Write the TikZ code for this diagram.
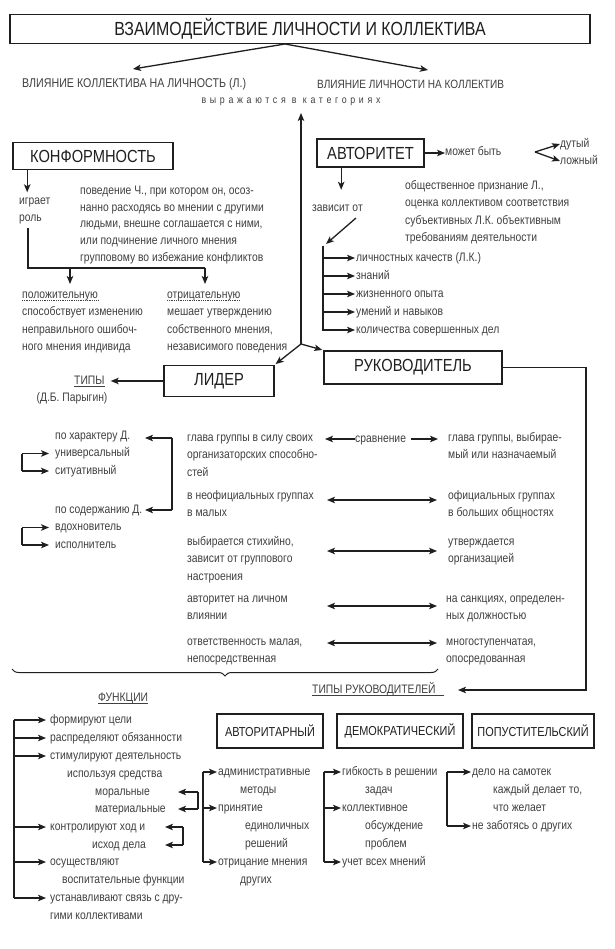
\documentclass[tikz,border=0pt]{standalone}
\usepackage{fontspec}
\setmainfont[FakeStretch=0.84]{Liberation Sans}
\usetikzlibrary{arrows.meta,decorations.pathreplacing,calc}
\definecolor{ink}{gray}{0.12}
\definecolor{txt}{gray}{0.25}
\newcommand\fsmall{\fontsize{12.3}{17.5}\selectfont}
\newcommand\fbig{\fontsize{17.5}{20}\selectfont}
\newcommand\fmid{\fontsize{13}{15}\selectfont}
\newcommand\ftitle{\fontsize{19}{22}\selectfont}
\newcommand\mystrut{\rule[-5.25pt]{0pt}{17.5pt}}
\tikzset{
 bx/.style={draw=ink, line width=1.6pt, inner sep=0pt, text=ink},
 bigbx/.style={bx, font=\fbig},
 smbx/.style={bx, font=\fmid, minimum height=34pt},
 tx/.style={inner sep=0pt, anchor=north west, align=left, font=\fsmall, text=txt},
 lt/.style={inner sep=0pt, anchor=west, font=\fsmall, text=txt, execute at begin node=\mystrut},
 con/.style={draw=ink, line width=1.3pt},
 arr/.style={con, ->},
 darr/.style={con, <->},
 uln/.style={draw=txt, line width=0.7pt},
 ulnd/.style={draw=txt, line width=0.8pt, densely dotted},
}
\begin{document}
\begin{tikzpicture}[x=1pt,y=-1pt, >={Stealth[length=8pt,width=6.5pt,inset=2pt]}]
\useasboundingbox (0,0) rectangle (614,949);
\fill[white] (0,0) rectangle (614,949);

% ---------- title ----------
\node[bx, font=\ftitle, minimum width=580pt, minimum height=29pt] (title) at (300,29) {ВЗАИМОДЕЙСТВИЕ ЛИЧНОСТИ И КОЛЛЕКТИВА};
\coordinate (apex) at (285,44);
\coordinate (tl) at (133,69);
\coordinate (tr) at (428,70);
\draw[arr] (apex) -- (tl);
\draw[arr] (apex) -- (tr);
\node[lt, font=\fontsize{12.7}{17.5}\selectfont] (inflA) at (22,84) {ВЛИЯНИЕ КОЛЛЕКТИВА НА ЛИЧНОСТЬ (Л.)};
\node[lt, font=\fontsize{12}{17.5}\selectfont] (inflB) at (317,85) {ВЛИЯНИЕ ЛИЧНОСТИ НА КОЛЛЕКТИВ};
\node[lt, anchor=center, font=\fontsize{10.5}{17.5}\selectfont\addfontfeature{LetterSpace=35}] (expr) at (291,100) {выражаются в категориях};

\coordinate (junc) at (301,344);
\coordinate (uptip) at (301,113);
\draw[arr] (junc) -- (uptip);

% ---------- conformity ----------
\node[bigbx, minimum width=160pt, minimum height=27pt] (konf) at (93,156) {КОНФОРМНОСТЬ};
\node[tx] (igr) at (19,192) {\mystrut играет\\роль};
\draw[arr] ($(konf.south west)+(15,0)$) -- ++(0,22);
\node[tx, font=\fontsize{12.3}{16.7}\selectfont] (konfdef) at (80,182) {\mystrut поведение Ч., при котором он, осоз-\\нанно расходясь во мнении с другими\\людьми, внешне соглашается с ними,\\или подчинение личного мнения\\групповому во избежание конфликтов};
\coordinate (kl) at (28,228);
\coordinate (kc) at (28,268);
\coordinate (kr) at (205,268);
\coordinate (ka) at (70,268);
\draw[con] (kl) -- (kc) -- (kr);
\draw[arr] (ka) -- ++(0,16);
\draw[arr] (kr) -- ++(0,16);
\node[lt] (pos) at (22,295) {положительную};
\draw[ulnd] ([yshift=-2pt]pos.base west) -- ([yshift=-2pt]pos.base east);
\node[tx] (posd) at (22,303.5) {\mystrut способствует изменению\\неправильного ошибоч-\\ного мнения индивида};
\node[lt] (neg) at (167,295) {отрицательную};
\draw[ulnd] ([yshift=-2pt]neg.base west) -- ([yshift=-2pt]neg.base east);
\node[tx] (negd) at (167,303.5) {\mystrut мешает утверждению\\собственного мнения,\\независимого поведения};

% ---------- authority ----------
\node[bigbx, minimum width=107pt, minimum height=28pt] (avt) at (370.5,153) {АВТОРИТЕТ};
\node[lt] (mb) at (445,152) {может быть};
\draw[arr] (avt.east) -- (avt.east -| mb.west);
\coordinate (fork) at (535,152);
\node[lt] (dut) at (560,144) {дутый};
\node[lt] (lozh) at (560,161) {ложный};
\draw[arr] (fork) -- (dut.west);
\draw[arr] (fork) -- (lozh.west);
\draw[arr] ($(avt.south west)+(25,0)$) -- ++(0,22);
\node[lt] (zav) at (312,208) {зависит от};
\coordinate (zs) at (356,218);
\coordinate (zt) at (326,244);
\draw[arr] (zs) -- (zt);
\node[tx] (avtdef) at (405,177) {\mystrut общественное признание Л.,\\оценка коллективом соответствия\\субъективных Л.К. объективным\\требованиям деятельности};
\coordinate (btop) at (323,246);
\node[lt] (q1) at (356,258) {личностных качеств (Л.К.)};
\node[lt] (q2) at (356,276) {знаний};
\node[lt] (q3) at (356,294) {жизненного опыта};
\node[lt] (q4) at (356,312) {умений и навыков};
\node[lt] (q5) at (356,330) {количества совершенных дел};
\foreach \q in {q1,q2,q3,q4,q5} \draw[arr, shorten >=1pt] (btop) |- (\q.west);

% ---------- leader / manager ----------
\node[bigbx, minimum width=110pt, minimum height=31pt] (lid) at (219,381) {ЛИДЕР};
\node[bigbx, minimum width=178pt, minimum height=33pt] (ruk) at (413,367.5) {РУКОВОДИТЕЛЬ};
\draw[arr, shorten >=1pt] (junc) -- (lid.north east);
\draw[arr, shorten >=1pt] (junc) -- (ruk.north west);
\node[lt] (tipy) at (74,381) {ТИПЫ};
\draw[uln] ([yshift=-2pt]tipy.base west) -- ([yshift=-2pt]tipy.base east);
\draw[arr, shorten >=6pt] (lid.west) -- (tipy.east);
\node[lt, anchor=center] (paryg) at (72,398) {(Д.Б. Парыгин)};

\node[tx] (pch) at (55,427) {\mystrut по характеру Д.\\универсальный\\ситуативный};
\coordinate (c1) at (22,453.5);
\coordinate (c2) at (22,471);
\draw[con] (c1) -- (c2);
\draw[arr] (c1) -- ++(27,0);
\draw[arr] (c2) -- ++(27,0);
\node[tx] (psd) at (55,501) {\mystrut по содержанию Д.\\вдохновитель\\исполнитель};
\coordinate (c3) at (22,527.5);
\coordinate (c4) at (22,545);
\draw[con] (c3) -- (c4);
\draw[arr] (c3) -- ++(27,0);
\draw[arr] (c4) -- ++(27,0);
\coordinate (rb1) at (172,438);
\coordinate (rb2) at (172,510);
\draw[con] (rb1) -- (rb2);
\draw[arr] (rb1) -- ++(-27,0);
\draw[arr] (rb2) -- ++(-27,0);

\node[tx] (m1) at (187,429) {\mystrut глава группы в силу своих\\организаторских способно-\\стей};
\node[tx] (m2) at (187,487) {\mystrut в неофициальных группах\\в малых};
\node[tx] (m3) at (187,533) {\mystrut выбирается стихийно,\\зависит от группового\\настроения};
\node[tx] (m4) at (187,590) {\mystrut авторитет на личном\\влиянии};
\node[tx] (m5) at (187,633) {\mystrut ответственность малая,\\непосредственная};

\node[tx] (r1) at (448,429) {\mystrut глава группы, выбирае-\\мый или назначаемый};
\node[tx] (r2) at (448,487) {\mystrut официальных группах\\в больших общностях};
\node[tx] (r3) at (448,533) {\mystrut утверждается\\организацией};
\node[tx] (r4) at (446,590) {\mystrut на санкциях, определен-\\ных должностью};
\node[tx] (r5) at (446,633) {\mystrut многоступенчатая,\\опосредованная};

\node[lt] (srav) at (355,439) {сравнение};
\coordinate (sl) at (325,439);
\coordinate (sr) at (438,439);
\draw[arr] (srav.west) -- (sl);
\draw[arr] ([xshift=5pt]srav.east) -- (sr);
\coordinate (d2l) at (327,500); \coordinate (d2r) at (437,500);
\coordinate (d3l) at (327,551); \coordinate (d3r) at (437,551);
\coordinate (d4l) at (327,606); \coordinate (d4r) at (437,606);
\coordinate (d5l) at (327,643); \coordinate (d5r) at (437,643);
\draw[darr] (d2l) -- (d2r);
\draw[darr] (d3l) -- (d3r);
\draw[darr] (d4l) -- (d4r);
\draw[darr] (d5l) -- (d5r);

\coordinate (brA) at (12,669);
\coordinate (brB) at (438,669);
\draw[con, line width=1pt, decorate, decoration={brace, amplitude=7pt, mirror}] (brA) -- (brB);

% ---------- manager types ----------
\node[lt] (tiprk) at (312,690) {ТИПЫ РУКОВОДИТЕЛЕЙ};
\draw[uln] ([yshift=-2pt]tiprk.base west) -- ([xshift=8pt,yshift=-2pt]tiprk.base east);
\coordinate (rcorner) at (586,690);
\coordinate (rtip) at (458,690);
\draw[arr] (ruk.east) -| (rcorner) -- (rtip);

% ---------- functions ----------
\node[lt] (funk) at (98,698) {ФУНКЦИИ};
\draw[uln] ([yshift=-2pt]funk.base west) -- ([yshift=-2pt]funk.base east);
\node[lt] (f1) at (50,720) {формируют цели};
\node[lt] (f2) at (50,738) {распределяют обязанности};
\node[lt] (f3) at (50,756) {стимулируют деятельность};
\node[lt] (f4) at (67,774) {используя средства};
\node[lt] (f5) at (95,792) {моральные};
\node[lt] (f6) at (95,809) {материальные};
\node[lt] (f7) at (50,827) {контролируют ход и};
\node[lt] (f8) at (92,845) {исход дела};
\node[lt] (f9) at (50,862) {осуществляют};
\node[lt] (f10) at (62,880) {воспитательные функции};
\node[lt] (f11) at (50,898) {устанавливают связь с дру-};
\node[lt] (f12) at (50,916) {гими коллективами};
\coordinate (fb1) at (14,720);
\coordinate (fb2) at (14,898);
\draw[con] (fb1) -- (fb2);
\foreach \f in {f1,f2,f3,f7,f9,f11} \draw[arr, shorten >=4pt] (\f.west -| fb1) -- (\f.west);
\coordinate (sb1) at (198,792);
\coordinate (sb2) at (198,809);
\draw[con] (sb1) -- (sb2);
\draw[arr] (sb1) -- ++(-20,0);
\draw[arr] (sb2) -- ++(-20,0);
\coordinate (sb3) at (183,827);
\coordinate (sb4) at (183,845);
\draw[con] (sb3) -- (sb4);
\draw[arr] (sb3) -- ++(-18,0);
\draw[arr] (sb4) -- ++(-18,0);

% ---------- leadership styles ----------
\node[smbx, minimum width=106pt] (aut) at (270,731) {АВТОРИТАРНЫЙ};
\node[smbx, minimum width=126pt] (dem) at (400,731) {ДЕМОКРАТИЧЕСКИЙ};
\node[smbx, minimum width=122pt] (pop) at (533,731) {ПОПУСТИТЕЛЬСКИЙ};

\node[lt] (a1) at (218,772) {административные};
\node[lt] (a2) at (240,790) {методы};
\node[lt] (a3) at (218,808) {принятие};
\node[lt] (a4) at (245,826) {единоличных};
\node[lt] (a5) at (245,844) {решений};
\node[lt] (a6) at (218,862) {отрицание мнения};
\node[lt] (a7) at (240,880) {других};
\coordinate (ab1) at (203,772);
\coordinate (ab2) at (203,862);
\draw[con] (ab1) -- (ab2);
\foreach \a in {a1,a3,a6} \draw[arr, shorten >=1pt] (\a.west -| ab1) -- (\a.west);

\node[lt] (d1) at (342,772) {гибкость в решении};
\node[lt] (d2) at (365,790) {задач};
\node[lt] (d3) at (342,808) {коллективное};
\node[lt] (d4) at (365,826) {обсуждение};
\node[lt] (d5) at (365,844) {проблем};
\node[lt] (d6) at (342,862) {учет всех мнений};
\coordinate (db1) at (324,772);
\coordinate (db2) at (324,862);
\draw[con] (db1) -- (db2);
\foreach \d in {d1,d3,d6} \draw[arr, shorten >=1pt] (\d.west -| db1) -- (\d.west);

\node[lt] (p1) at (472,772) {дело на самотек};
\node[lt] (p2) at (493,790) {каждый делает то,};
\node[lt] (p3) at (493,808) {что желает};
\node[lt] (p4) at (472,826) {не заботясь о других};
\coordinate (pb1) at (447,772);
\coordinate (pb2) at (447,826);
\draw[con] (pb1) -- (pb2);
\foreach \p in {p1,p4} \draw[arr, shorten >=1pt] (\p.west -| pb1) -- (\p.west);
\end{tikzpicture}
\end{document}
